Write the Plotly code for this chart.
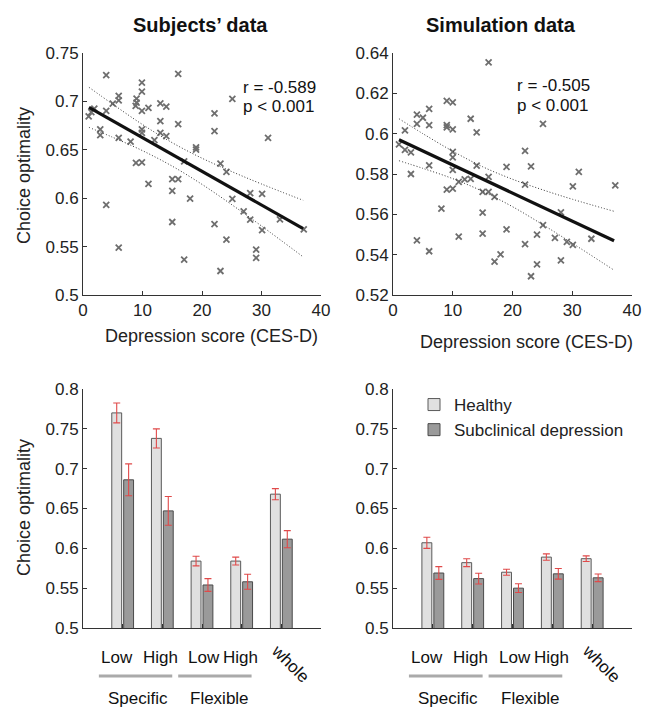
import plotly.graph_objects as go

# Target picture size; the page body adds an 8px margin, so the figure is drawn 8px smaller
W, H = 655, 717
OFF = 8
FW, FH = W - OFF, H - OFF
FONT = "Liberation Sans, Arial, sans-serif"

# ---------------- data ----------------
subj_score = [3.9, 16.0, 9.9, 9.9, 6.0, 6.0, 9.0, 9.0, 5.0, 13.0, 14.0, 8.85, 11.0, 9.9, 3.9, 1.9,
              1.4, 0.95, 13.0, 16.0, 2.9, 2.9, 6.0, 9.9, 9.9, 13.0, 14.0, 12.0, 8.0, 22.1, 22.1,
              25.1, 31.1, 19.0, 19.0, 8.9, 9.9, 17.0, 23.1, 24.1, 11.0, 15.0, 16.0, 15.0, 18.0,
              25.1, 28.1, 30.1, 27.0, 28.1, 30.1, 33.1, 37.1, 3.9, 15.0, 22.1, 24.1, 6.0, 29.1,
              29.1, 17.0, 23.1]
subj_optimality = [0.7271, 0.7285, 0.7195, 0.7102, 0.7057, 0.7011, 0.7029, 0.6987, 0.6977, 0.6980,
                   0.6946, 0.6953, 0.6932, 0.6901, 0.6901, 0.6925, 0.6890, 0.6845, 0.6797, 0.6765,
                   0.6710, 0.6651, 0.6623, 0.6710, 0.6675, 0.6675, 0.6641, 0.6599, 0.6585, 0.6876,
                   0.6693, 0.7025, 0.6623, 0.6526, 0.6502, 0.6364, 0.6370, 0.6381, 0.6357, 0.6273,
                   0.6149, 0.6197, 0.6197, 0.6076, 0.5996, 0.5993, 0.6052, 0.6045, 0.5865, 0.5778,
                   0.5670, 0.5781, 0.5677, 0.5930, 0.5754, 0.5733, 0.5573, 0.5490, 0.5469, 0.5383,
                   0.5366, 0.5248]

sim_score = [16.0, 9.0, 10.0, 6.05, 4.0, 5.0, 4.0, 6.05, 13.0, 9.0, 9.0, 10.0, 2.0, 14.0, 25.1,
             1.0, 2.0, 3.0, 10.0, 10.0, 22.1, 6.05, 3.0, 10.0, 14.0, 19.0, 23.1, 31.1, 11.0, 12.0,
             13.0, 16.0, 22.1, 30.1, 37.2, 9.0, 10.0, 15.0, 16.0, 17.0, 8.1, 15.0, 28.1, 25.1,
             19.0, 15.0, 11.0, 4.0, 24.1, 27.1, 29.1, 30.1, 33.2, 22.1, 6.05, 18.0, 17.0, 28.1,
             24.1, 23.1]
sim_optimality = [0.6354, 0.6163, 0.6155, 0.6123, 0.6094, 0.6079, 0.6049, 0.6042, 0.6074, 0.6042,
                  0.6031, 0.6021, 0.6016, 0.6006, 0.6049, 0.5947, 0.5920, 0.5907, 0.5910, 0.5882,
                  0.5915, 0.5843, 0.5800, 0.5820, 0.5841, 0.5835, 0.5838, 0.5811, 0.5761, 0.5773,
                  0.5776, 0.5786, 0.5747, 0.5739, 0.5744, 0.5722, 0.5727, 0.5711, 0.5711, 0.5687,
                  0.5628, 0.5608, 0.5610, 0.5546, 0.5525, 0.5504, 0.5489, 0.5471, 0.5499, 0.5483,
                  0.5463, 0.5449, 0.5479, 0.5452, 0.5417, 0.5401, 0.5365, 0.5372, 0.5352, 0.5293]

# regression line and confidence band read at these scores
fit_score = [1, 5, 10, 15, 20, 25, 30, 37]
subj_fit = [0.6939, 0.6800, 0.6626, 0.6452, 0.6278, 0.6104, 0.5930, 0.5686]
subj_ci_upper = [0.7146, 0.6971, 0.6761, 0.6573, 0.6413, 0.6275, 0.6147, 0.5978]
subj_ci_lower = [0.6732, 0.6629, 0.6491, 0.6331, 0.6143, 0.5933, 0.5713, 0.5394]
sim_fit = [0.5970, 0.5914, 0.5845, 0.5775, 0.5706, 0.5636, 0.5566, 0.5469]
sim_ci_upper = [0.6074, 0.6000, 0.5913, 0.5836, 0.5774, 0.5722, 0.5675, 0.5615]
sim_ci_lower = [0.5866, 0.5828, 0.5777, 0.5714, 0.5638, 0.5550, 0.5457, 0.5323]

subj_stats = ["r = -0.589", "p < 0.001"]
sim_stats = ["r = -0.505", "p < 0.001"]

conditions = ["Low", "High", "Low", "High", "whole"]
condition_index = [1, 2, 3, 4, 5]
condition_groups = ["Specific", "Flexible"]

subj_healthy = [0.770, 0.738, 0.584, 0.584, 0.668]
subj_healthy_err = [0.0125, 0.012, 0.006, 0.005, 0.007]
subj_depressed = [0.686, 0.647, 0.554, 0.558, 0.6115]
subj_depressed_err = [0.020, 0.018, 0.008, 0.0094, 0.0107]

sim_healthy = [0.607, 0.582, 0.570, 0.589, 0.587]
sim_healthy_err = [0.007, 0.005, 0.0038, 0.004, 0.0035]
sim_depressed = [0.569, 0.562, 0.550, 0.568, 0.563]
sim_depressed_err = [0.008, 0.0067, 0.0055, 0.0067, 0.0048]

# ---------------- helpers ----------------
def px(x):
    return (x - OFF) / FW


def py(y):
    return 1 - (y - OFF) / FH


fig = go.Figure()

GRAY_X = "#6e6e6e"


def add_scatter_panel(xs, ys, fit, up, lo, xa, ya):
    fig.add_trace(go.Scatter(x=xs, y=ys, mode="markers", xaxis=xa, yaxis=ya,
                             marker=dict(symbol="x-thin", size=6,
                                         line=dict(width=1.8, color=GRAY_X)),
                             showlegend=False, hoverinfo="x+y"))
    for band in (up, lo):
        fig.add_trace(go.Scatter(x=fit_score, y=band, mode="lines", xaxis=xa, yaxis=ya,
                                 line=dict(color="#333", width=1, dash="1px,2px", shape="spline"),
                                 showlegend=False, hoverinfo="skip"))
    fig.add_trace(go.Scatter(x=fit_score, y=fit, mode="lines", xaxis=xa, yaxis=ya,
                             line=dict(color="#111", width=3.2),
                             showlegend=False, hoverinfo="skip"))


add_scatter_panel(subj_score, subj_optimality, subj_fit, subj_ci_upper, subj_ci_lower, "x", "y")
add_scatter_panel(sim_score, sim_optimality, sim_fit, sim_ci_upper, sim_ci_lower, "x2", "y2")

ERR = "#e04a4a"


def add_bar_panel(h, he, d, de, xa, ya, legend):
    fig.add_trace(go.Bar(x=condition_index, y=h, name="Healthy", xaxis=xa, yaxis=ya,
                         marker=dict(color="#e0e0e0", line=dict(color="#5a5a5a", width=1)),
                         error_y=dict(type="data", array=he, color=ERR, thickness=1.1, width=3.5),
                         showlegend=legend))
    fig.add_trace(go.Bar(x=condition_index, y=d, name="Subclinical depression", xaxis=xa, yaxis=ya,
                         marker=dict(color="#9a9a9a", line=dict(color="#4a4a4a", width=1)),
                         error_y=dict(type="data", array=de, color=ERR, thickness=1.1, width=3.5),
                         showlegend=legend))


add_bar_panel(subj_healthy, subj_healthy_err, subj_depressed, subj_depressed_err, "x3", "y3", False)
add_bar_panel(sim_healthy, sim_healthy_err, sim_depressed, sim_depressed_err, "x4", "y4", True)

# ---------------- axes ----------------
tickfont = dict(family=FONT, size=17, color="#222")
common = dict(showline=True, linecolor="#333", linewidth=1, mirror=False, showgrid=False,
              zeroline=False, ticks="inside", ticklen=4, tickcolor="#333", tickwidth=1,
              tickfont=tickfont, automargin=False)
common_nolab = {k: v for k, v in common.items() if k != "tickfont"}

LX = (px(83), px(321))
RX = (px(393), px(632))
TY = (py(295), py(53))
BY = (py(628), py(389))

fig.update_layout(
    xaxis=dict(domain=LX, anchor="y", range=[0, 40], tickvals=[0, 10, 20, 30, 40], **common),
    yaxis=dict(domain=TY, anchor="x", range=[0.5, 0.75], dtick=0.05, **common),
    xaxis2=dict(domain=RX, anchor="y2", range=[0, 40], tickvals=[0, 10, 20, 30, 40], **common),
    yaxis2=dict(domain=TY, anchor="x2", range=[0.52, 0.64], dtick=0.02, **common),
    xaxis3=dict(domain=LX, anchor="y3", range=[0, 6], tickvals=condition_index,
                showticklabels=False, **common_nolab),
    yaxis3=dict(domain=BY, anchor="x3", range=[0.5, 0.8], dtick=0.05, **common),
    xaxis4=dict(domain=RX, anchor="y4", range=[0, 6], tickvals=condition_index,
                showticklabels=False, **common_nolab),
    yaxis4=dict(domain=BY, anchor="x4", range=[0.5, 0.8], dtick=0.05, **common),
)

fig.update_layout(
    width=FW, height=FH,
    margin=dict(l=0, r=0, t=0, b=0, autoexpand=False),
    paper_bgcolor="white", plot_bgcolor="white",
    font=dict(family=FONT, size=17, color="#222"),
    barmode="group", bargap=0.4, bargroupgap=0.17,
    legend=dict(x=px(414), y=py(387), xanchor="left", yanchor="top",
                bgcolor="rgba(0,0,0,0)", font=dict(family=FONT, size=17, color="#222"),
                tracegroupgap=0, itemwidth=30),
)


def text(t, x, y, size=17, angle=0, xanchor="center", bold=False, color="#111"):
    return dict(text=f"<b>{t}</b>" if bold else t, x=px(x), y=py(y), xref="paper", yref="paper",
                xanchor=xanchor, yanchor="middle", showarrow=False, textangle=angle,
                font=dict(family=FONT, size=size, color=color))


annotations = [
    text("Subjects’ data", 200, 25, size=20, bold=True),
    text("Simulation data", 501, 25, size=20, bold=True),
    text("Choice optimality", 24, 176, size=18, angle=-90, color="#222"),
    text("Choice optimality", 24, 508, size=18, angle=-90, color="#222"),
    text("Depression score (CES-D)", 212, 336, size=18, color="#222"),
    text("Depression score (CES-D)", 526, 342, size=18, color="#222"),
]
for i, t in enumerate(subj_stats):
    annotations.append(text(t, 241, 87 + 19 * i, xanchor="left"))
for i, t in enumerate(sim_stats):
    annotations.append(text(t, 515, 85 + 20 * i, xanchor="left"))

shapes = []
label_shift = [-6, -2, 2, -1]
for xa in ("x3", "x4"):
    for i, lab in enumerate(conditions[:4]):
        annotations.append(dict(text=lab, x=condition_index[i], y=py(657), xref=xa, yref="paper",
                                xanchor="center", yanchor="middle",
                                xshift=label_shift[i], showarrow=False,
                                font=dict(family=FONT, size=17, color="#111")))
    annotations.append(dict(text=conditions[4], x=condition_index[4], y=py(663), xref=xa, yref="paper",
                            xanchor="center", yanchor="middle",
                            xshift=9, showarrow=False, textangle=45,
                            font=dict(family=FONT, size=17, color="#111")))
    for g, lab in enumerate(condition_groups):
        a, b = condition_index[2 * g], condition_index[2 * g + 1]
        shapes.append(dict(type="line", xref=xa, yref="paper", x0=a - 0.6, x1=b + 0.25,
                           y0=py(676), y1=py(676), line=dict(color="#aaaaaa", width=3)))
        annotations.append(dict(text=lab, x=(a + b) / 2, y=py(698), xref=xa, yref="paper",
                                xanchor="center", yanchor="middle",
                                xshift=-5 if g == 0 else -2, showarrow=False,
                                font=dict(family=FONT, size=17, color="#111")))

fig.update_layout(annotations=annotations, shapes=shapes)

fig.write_html("out.html")
